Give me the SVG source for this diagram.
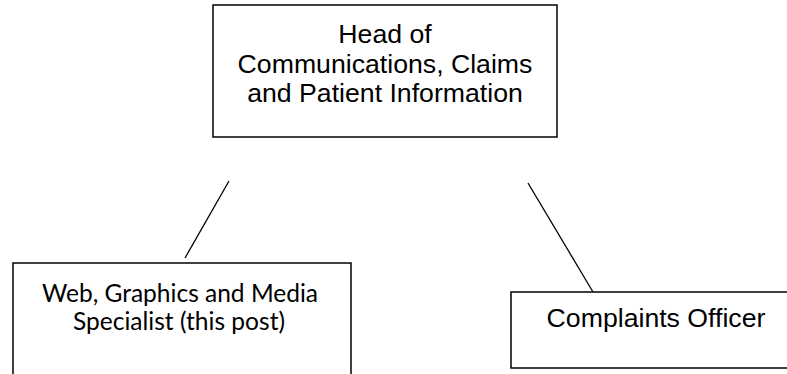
<svg xmlns="http://www.w3.org/2000/svg" width="787" height="374" viewBox="0 0 787 374">
<style>
.box{fill:#fff;stroke:#000;stroke-width:1.5}
.arial{font-family:"Liberation Sans",Arial,sans-serif;font-size:26.67px;fill:#000;text-anchor:middle}
.cal{font-family:Lato,"Open Sans",sans-serif;font-size:25px;fill:#000;text-anchor:middle}
.con{stroke:#000;stroke-width:1.3;fill:none}
</style>
<rect width="787" height="374" fill="#fff"/>
<g id="connectors">
<line class="con" x1="229" y1="181" x2="185" y2="258"/>
<line class="con" x1="528" y1="183" x2="593" y2="292"/>
</g>
<g id="head">
<rect class="box" x="213" y="5" width="344" height="132"/>
<text class="arial" x="385" y="43">Head of</text>
<text class="arial" x="385" y="72.5">Communications, Claims</text>
<text class="arial" x="385" y="102">and Patient Information</text>
</g>
<g id="web">
<rect class="box" x="13" y="263" width="338" height="120"/>
<text class="cal" x="180" y="302" textLength="276" lengthAdjust="spacingAndGlyphs">Web, Graphics and Media</text>
<text class="cal" x="179" y="330" textLength="212" lengthAdjust="spacingAndGlyphs">Specialist (this post)</text>
</g>
<g id="complaints">
<rect class="box" x="511" y="292" width="290" height="76"/>
<text class="arial" x="656" y="327">Complaints Officer</text>
</g>
</svg>
